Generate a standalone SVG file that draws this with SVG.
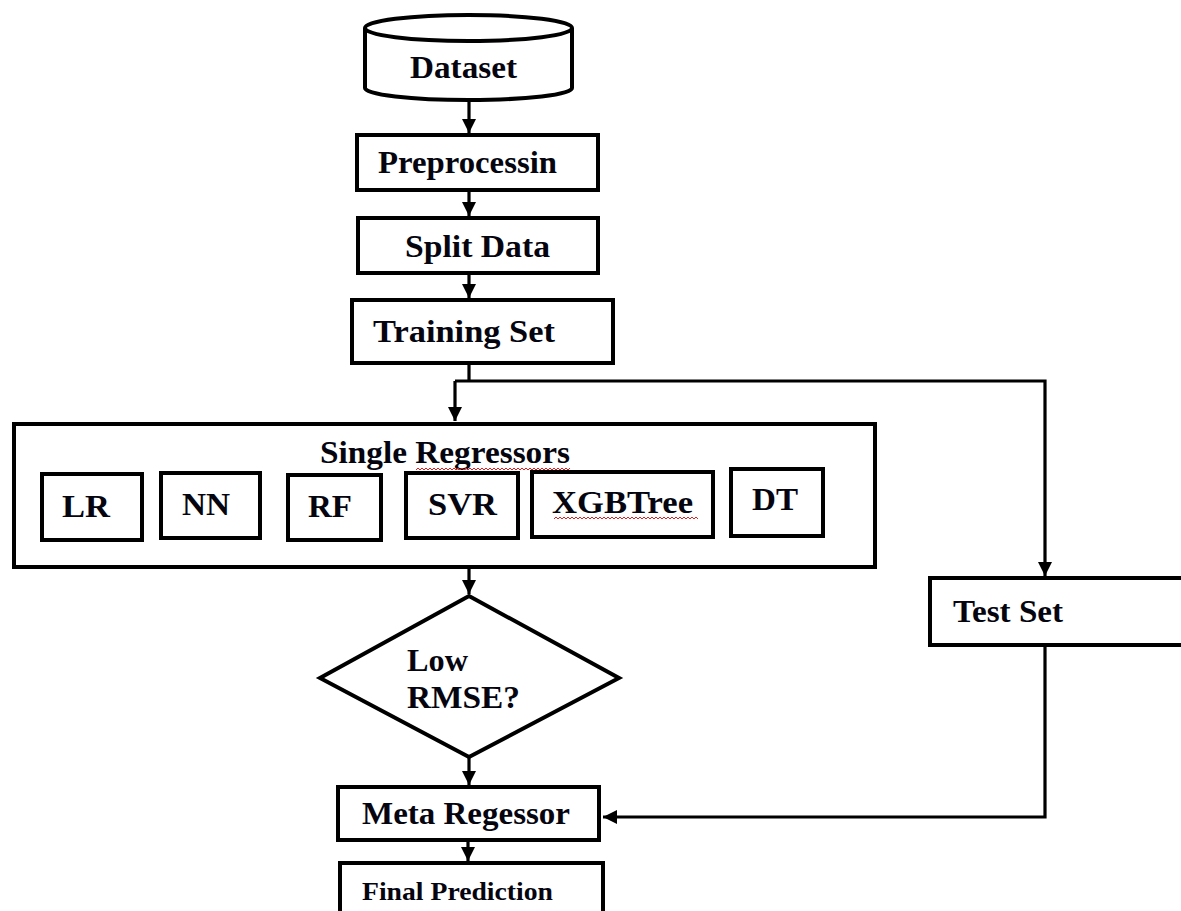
<svg xmlns="http://www.w3.org/2000/svg" width="1181" height="911" viewBox="0 0 1181 911">
<defs>
<marker id="ah" viewBox="0 0 10 10" refX="10" refY="5" markerWidth="4.4" markerHeight="4.4" orient="auto" markerUnits="strokeWidth"><path d="M0,0 L10,5 L0,10 Z" fill="#000"/></marker>
<style>
.box{fill:#fff;stroke:#000;stroke-width:4}
.t{font-family:"Liberation Serif","Times New Roman",serif;font-weight:bold;font-size:31px;fill:#050510}
.c{fill:none;stroke:#000;stroke-width:3.2}
.sq{fill:none;stroke:#e02020;stroke-width:1}
</style>
</defs>
<rect width="1181" height="911" fill="#fff"/>
<g id="connectors">
<path class="c" d="M469,101 V133" marker-end="url(#ah)"/>
<path class="c" d="M469,190 V216" marker-end="url(#ah)"/>
<path class="c" d="M469,273 V298" marker-end="url(#ah)"/>
<path class="c" d="M469,363 V381"/>
<path class="c" d="M455,381 H1045 V576" marker-end="url(#ah)"/>
<path class="c" d="M455,381 V421" marker-end="url(#ah)"/>
<path class="c" d="M469,567 V594" marker-end="url(#ah)"/>
<path class="c" d="M469,757 V785" marker-end="url(#ah)"/>
<path class="c" d="M468,840 V861" marker-end="url(#ah)"/>
<path class="c" d="M1045,645 V817 H603" marker-end="url(#ah)"/>
</g>
<g id="dataset">
<path class="box" d="M365,28 V88 A103.5,12 0 0 0 572,88 V28"/>
<ellipse class="box" cx="468.5" cy="28" rx="103.5" ry="13"/>
<text class="t" x="410" y="78" textLength="107" lengthAdjust="spacingAndGlyphs">Dataset</text>
</g>
<g id="preprocessing">
<rect class="box" x="357" y="135" width="241" height="55"/>
<text class="t" x="378" y="173" textLength="179" lengthAdjust="spacingAndGlyphs">Preprocessin</text>
</g>
<g id="split">
<rect class="box" x="358" y="218" width="240" height="55"/>
<text class="t" x="405" y="257" textLength="145" lengthAdjust="spacingAndGlyphs">Split Data</text>
</g>
<g id="training">
<rect class="box" x="352" y="300" width="261" height="63"/>
<text class="t" x="373" y="342" textLength="182" lengthAdjust="spacingAndGlyphs">Training Set</text>
</g>
<g id="single-regressors">
<rect class="box" x="14" y="424" width="861" height="143"/>
<text class="t" x="320" y="463" textLength="250" lengthAdjust="spacingAndGlyphs">Single Regressors</text>
<path class="sq" d="M416,470 l2,-2 l2,2 l2,-2 l2,2 l2,-2 l2,2 l2,-2 l2,2 l2,-2 l2,2 l2,-2 l2,2 l2,-2 l2,2 l2,-2 l2,2 l2,-2 l2,2 l2,-2 l2,2 l2,-2 l2,2 l2,-2 l2,2 l2,-2 l2,2 l2,-2 l2,2 l2,-2 l2,2 l2,-2 l2,2 l2,-2 l2,2 l2,-2 l2,2 l2,-2 l2,2 l2,-2 l2,2 l2,-2 l2,2 l2,-2 l2,2 l2,-2 l2,2 l2,-2 l2,2 l2,-2 l2,2 l2,-2 l2,2 l2,-2 l2,2 l2,-2 l2,2 l2,-2 l2,2 l2,-2 l2,2 l2,-2 l2,2 l2,-2 l2,2 l2,-2 l2,2 l2,-2 l2,2 l2,-2 l2,2 l2,-2 l2,2 l2,-2 l2,2 l2,-2 l2,2 l2,-2"/>
</g>
<g id="lr">
<rect class="box" x="42" y="474" width="100" height="66"/>
<text class="t" x="62" y="517" textLength="48" lengthAdjust="spacingAndGlyphs">LR</text>
</g>
<g id="nn">
<rect class="box" x="161" y="473" width="99" height="65"/>
<text class="t" x="182" y="515" textLength="48" lengthAdjust="spacingAndGlyphs">NN</text>
</g>
<g id="rf">
<rect class="box" x="288" y="475" width="93" height="65"/>
<text class="t" x="308" y="517" textLength="44" lengthAdjust="spacingAndGlyphs">RF</text>
</g>
<g id="svr">
<rect class="box" x="406" y="473" width="112" height="65"/>
<text class="t" x="428" y="515" textLength="69" lengthAdjust="spacingAndGlyphs">SVR</text>
</g>
<g id="xgbtree">
<rect class="box" x="532" y="472" width="181" height="65"/>
<text class="t" x="552" y="513" textLength="141" lengthAdjust="spacingAndGlyphs">XGBTree</text>
<path class="sq" d="M554,519 l2,-2 l2,2 l2,-2 l2,2 l2,-2 l2,2 l2,-2 l2,2 l2,-2 l2,2 l2,-2 l2,2 l2,-2 l2,2 l2,-2 l2,2 l2,-2 l2,2 l2,-2 l2,2 l2,-2 l2,2 l2,-2 l2,2 l2,-2 l2,2 l2,-2 l2,2 l2,-2 l2,2 l2,-2 l2,2 l2,-2 l2,2 l2,-2 l2,2 l2,-2 l2,2 l2,-2 l2,2 l2,-2 l2,2 l2,-2 l2,2 l2,-2 l2,2 l2,-2 l2,2 l2,-2 l2,2 l2,-2 l2,2 l2,-2 l2,2 l2,-2 l2,2 l2,-2 l2,2 l2,-2 l2,2 l2,-2 l2,2 l2,-2 l2,2 l2,-2 l2,2 l2,-2 l2,2 l2,-2 l2,2 l2,-2 l2,2"/>
</g>
<g id="dt">
<rect class="box" x="731" y="469" width="92" height="67"/>
<text class="t" x="752" y="510" textLength="46" lengthAdjust="spacingAndGlyphs">DT</text>
</g>
<g id="low-rmse">
<path class="box" d="M469,596 L619,678 L469,757 L320,678 Z"/>
<text class="t" x="407" y="671" textLength="61" lengthAdjust="spacingAndGlyphs">Low</text>
<text class="t" x="407" y="708" textLength="113" lengthAdjust="spacingAndGlyphs">RMSE?</text>
</g>
<g id="test-set">
<rect class="box" x="930" y="578" width="255" height="67"/>
<text class="t" x="953" y="622" textLength="110" lengthAdjust="spacingAndGlyphs">Test Set</text>
</g>
<g id="meta">
<rect class="box" x="338" y="787" width="261" height="53"/>
<text class="t" x="362" y="824" textLength="208" lengthAdjust="spacingAndGlyphs">Meta Regessor</text>
</g>
<g id="final">
<rect class="box" x="340" y="863" width="263" height="60"/>
<text class="t" x="362" y="900" style="font-size:25px" textLength="191" lengthAdjust="spacingAndGlyphs">Final Prediction</text>
</g>
</svg>
